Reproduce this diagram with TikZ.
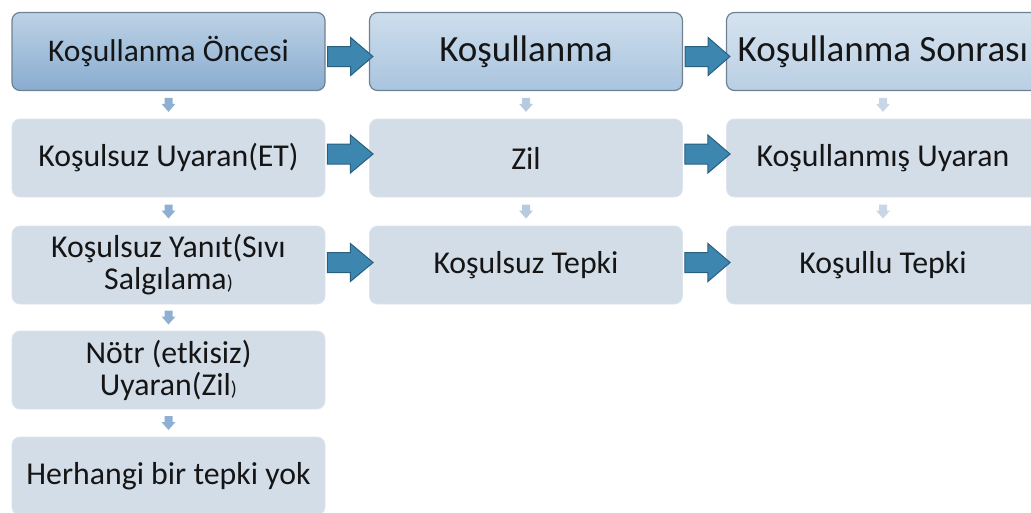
\documentclass[tikz,border=0pt]{standalone}
\usepackage{fontspec}
\setmainfont{Carlito}
\usetikzlibrary{calc}

\definecolor{boxfill}{HTML}{D3DDE8}
\definecolor{boxedge}{HTML}{DDE4EC}
\definecolor{headedge}{HTML}{6E8294}
\definecolor{arrowfill}{HTML}{3D86B0}
\definecolor{arrowedge}{HTML}{2A5F80}
\definecolor{txt}{HTML}{151515}
\definecolor{hOneTop}{HTML}{BDD2E6}
\definecolor{hOneBot}{HTML}{89ACD0}
\definecolor{hTwoTop}{HTML}{CEDEED}
\definecolor{hTwoBot}{HTML}{A9C4DE}
\definecolor{hThreeTop}{HTML}{D6E3EF}
\definecolor{hThreeBot}{HTML}{BACFE4}
\definecolor{dOne}{HTML}{8EB0D3}
\definecolor{dTwo}{HTML}{B6CBE0}
\definecolor{dThree}{HTML}{C8D6E5}

\tikzset{
  box/.style={rounded corners=8pt, minimum width=313pt, minimum height=78pt,
    inner sep=0pt, align=center, text=txt, font=\fontsize{31.8}{32}\selectfont},
  plainbox/.style={box, fill=boxfill, draw=boxedge, line width=0.8pt},
  headbox/.style={box, draw=headedge, line width=1.2pt},
  bigarrow/.style={fill=arrowfill, draw=arrowedge, line width=1pt, line join=miter}
}

% block arrow from the east side of #1 into the west side of #2,
% shifted vertically by #3
\newcommand{\blockarrow}[3]{%
  \draw[bigarrow]
    ($(#1.east)+(2,#3-10)$) -- ($(#1.east)+(25,#3-10)$) -- ($(#1.east)+(25,#3-19)$)
    -- ($(#2.west)+(4,#3)$)
    -- ($(#1.east)+(25,#3+19)$) -- ($(#1.east)+(25,#3+10)$) -- ($(#1.east)+(2,#3+10)$) -- cycle;}

% small downward arrow between #1 and #2, filled with colour #3
\newcommand{\colarrow}[3]{%
  \coordinate (m) at ($(#1.south)!0.5!(#2.north)$);
  \fill[#3] ($(m)+(-4,-7)$) -- ($(m)+(4,-7)$) -- ($(m)+(4,-1)$) -- ($(m)+(7,-1)$)
    -- ($(m)+(0,7)$) -- ($(m)+(-7,-1)$) -- ($(m)+(-4,-1)$) -- cycle;}

\begin{document}
\begin{tikzpicture}[x=1pt, y=-1pt]
\useasboundingbox (0,0) rectangle (1031,512);

% column headers
\node[headbox, top color=hOneTop, bottom color=hOneBot,
  font=\fontsize{31.5}{32}\selectfont] (h1) at (168.5,51.5) {Koşullanma Öncesi};
\node[headbox, top color=hTwoTop, bottom color=hTwoBot,
  font=\fontsize{37}{40}\selectfont] (h2) at (526,51.5) {Koşullanma};
\node[headbox, top color=hThreeTop, bottom color=hThreeBot,
  font=\fontsize{37}{40}\selectfont] (h3) at (883,51.5) {Koşullanma Sonrası};

% first column
\node[plainbox] (a1) at (168.5,158) {Koşulsuz Uyaran(ET)};
\node[plainbox] (a2) at (168.5,265) {Koşulsuz Yanıt(Sıvı\\Salgılama{\fontsize{20}{20}\selectfont)}};
\node[plainbox] (a3) at (168.5,370) {Nötr (etkisiz)\\Uyaran(Zil{\fontsize{20}{20}\selectfont)}};
\node[plainbox] (a4) at (168.5,476) {Herhangi bir tepki yok};

% second column
\node[plainbox] (b1) at (526,158) {Zil};
\node[plainbox] (b2) at (526,265) {Koşulsuz Tepki};

% third column
\node[plainbox] (c1) at (883,158) {Koşullanmış Uyaran};
\node[plainbox] (c2) at (883,265) {Koşullu Tepki};

% small arrows inside the columns
\colarrow{h1}{a1}{dOne}
\colarrow{a1}{a2}{dOne}
\colarrow{a2}{a3}{dOne}
\colarrow{a3}{a4}{dOne}
\colarrow{h2}{b1}{dTwo}
\colarrow{b1}{b2}{dTwo}
\colarrow{h3}{c1}{dThree}
\colarrow{c1}{c2}{dThree}

% block arrows between the columns
\blockarrow{h1}{h2}{5}
\blockarrow{a1}{b1}{-4}
\blockarrow{a2}{b2}{-2.5}
\blockarrow{h2}{h3}{5}
\blockarrow{b1}{c1}{-4}
\blockarrow{b2}{c2}{-2.5}
\end{tikzpicture}
\end{document}
